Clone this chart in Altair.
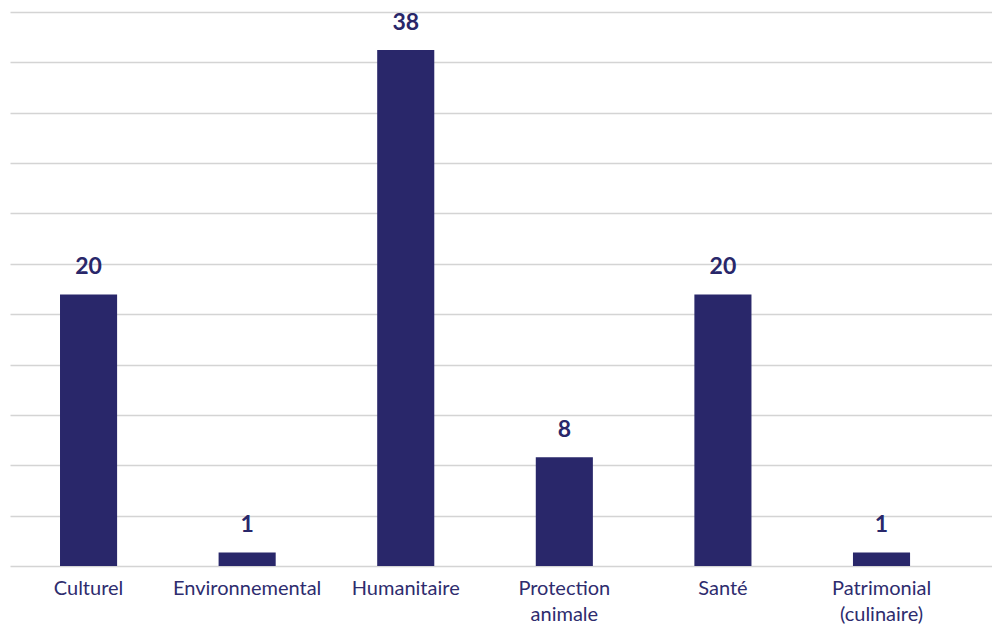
import altair as alt
import pandas as pd

categories = ["Culturel", "Environnemental", "Humanitaire", "Protection|animale", "Santé", "Patrimonial|(culinaire)"]
values = [20, 1, 38, 8, 20, 1]

y_max = 40.8
grid_ticks = [round(i * y_max / 11, 4) for i in range(12)]

df = pd.DataFrame({"cat": categories, "val": values})

bar_color = "#29276a"
text_color = "#2e2c6e"
font = "Lato"

x_enc = alt.X(
    "cat:N",
    sort=categories,
    title=None,
    scale=alt.Scale(paddingInner=0.64, paddingOuter=0.416, align=0.379),
    axis=alt.Axis(
        labelAngle=0,
        labelFont=font,
        labelFontSize=20,
        labelColor=text_color,
        labelPadding=12,
        labelLineHeight=26,
        labelExpr="split(datum.label, '|')",
        ticks=False,
        domain=False,
        grid=False,
    ),
)
y_enc = alt.Y(
    "val:Q",
    title=None,
    scale=alt.Scale(domain=[0, y_max], nice=False),
    axis=alt.Axis(
        values=grid_ticks,
        labels=False,
        ticks=False,
        domain=False,
        grid=True,
        gridColor="#d4d4d4",
        gridWidth=1.5,
    ),
)

bars = alt.Chart(df).mark_bar(color=bar_color).encode(x=x_enc, y=y_enc)
labels = alt.Chart(df).mark_text(
    font=font, fontSize=23, fontWeight="bold", color=bar_color, baseline="alphabetic", dy=-20
).encode(x=alt.X("cat:N", sort=categories), y="val:Q", text="val:Q")

chart = (
    alt.layer(bars, labels)
    .properties(
        width=982,
        height=554,
        padding={"left": 2, "top": 4, "right": 0, "bottom": 60},
        autosize=alt.AutoSizeParams(type="none"),
    )
    .configure_view(stroke=None)
)

chart.save("out.html", embed_options={"renderer": "svg", "actions": False})
